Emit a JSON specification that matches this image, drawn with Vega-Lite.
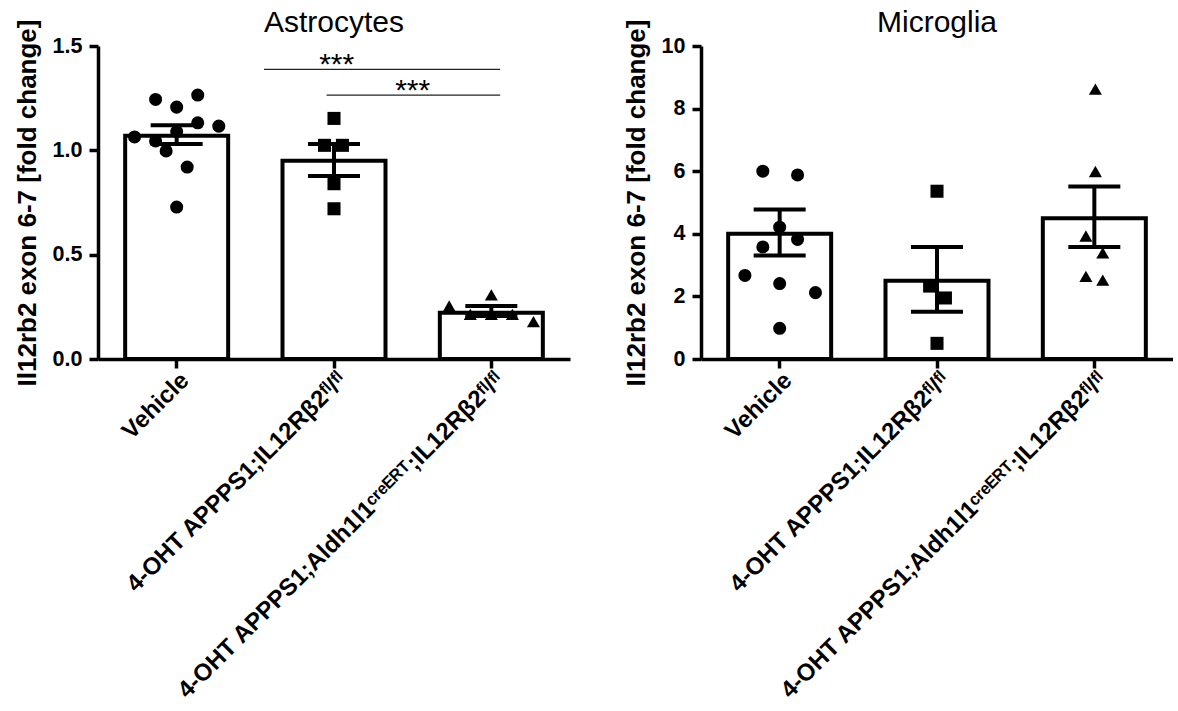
{
  "$schema": "https://vega.github.io/schema/vega-lite/v6.json",
  "background": "white",
  "padding": {"left": 14, "top": 8, "right": 0, "bottom": 0},
  "spacing": 53,
  "config": {
    "view": {"stroke": null},
    "font": "Liberation Sans",
    "axis": {
      "domainColor": "black", "domainWidth": 3.5, "tickColor": "black", "tickWidth": 3.5, "tickSize": 9,
      "labelColor": "black", "labelFont": "Liberation Sans", "labelFontSize": 21.5, "labelFontWeight": "bold",
      "titleColor": "black", "titleFont": "Liberation Sans", "titleFontSize": 26, "titleFontWeight": "bold",
      "grid": false, "labelLimit": 1000
    },
    "title": {"font": "Liberation Sans", "fontSize": 30, "fontWeight": "normal", "color": "black", "offset": -19}
  },
  "datasets": {
    "bars": [
      {"panel": "Astrocytes", "group": "Vehicle", "mean": 1.07, "lo": 1.03, "hi": 1.12},
      {"panel": "Astrocytes", "group": "4-OHT APPPS1;IL12Rβ2ᶠˡ/ᶠˡ", "mean": 0.95, "lo": 0.877, "hi": 1.03},
      {"panel": "Astrocytes", "group": "4-OHT APPPS1;Aldh1l1ᶜʳᵉᴱᴿᵀ;IL12Rβ2ᶠˡ/ᶠˡ", "mean": 0.222, "lo": 0.206, "hi": 0.254},
      {"panel": "Microglia", "group": "Vehicle", "mean": 4.0, "lo": 3.31, "hi": 4.78},
      {"panel": "Microglia", "group": "4-OHT APPPS1;IL12Rβ2ᶠˡ/ᶠˡ", "mean": 2.5, "lo": 1.51, "hi": 3.58},
      {"panel": "Microglia", "group": "4-OHT APPPS1;Aldh1l1ᶜʳᵉᴱᴿᵀ;IL12Rβ2ᶠˡ/ᶠˡ", "mean": 4.5, "lo": 3.58, "hi": 5.51}
    ],
    "points": [
      {"panel": "Astrocytes", "group": "Vehicle", "value": 1.244, "col": -2},
      {"panel": "Astrocytes", "group": "Vehicle", "value": 1.207, "col": 0},
      {"panel": "Astrocytes", "group": "Vehicle", "value": 1.265, "col": 2},
      {"panel": "Astrocytes", "group": "Vehicle", "value": 1.132, "col": 2},
      {"panel": "Astrocytes", "group": "Vehicle", "value": 1.116, "col": 4},
      {"panel": "Astrocytes", "group": "Vehicle", "value": 1.064, "col": -4},
      {"panel": "Astrocytes", "group": "Vehicle", "value": 1.045, "col": -2},
      {"panel": "Astrocytes", "group": "Vehicle", "value": 1.09, "col": 0},
      {"panel": "Astrocytes", "group": "Vehicle", "value": 0.997, "col": -1},
      {"panel": "Astrocytes", "group": "Vehicle", "value": 0.92, "col": 1},
      {"panel": "Astrocytes", "group": "Vehicle", "value": 0.728, "col": 0},
      {"panel": "Astrocytes", "group": "4-OHT APPPS1;IL12Rβ2ᶠˡ/ᶠˡ", "value": 1.153, "col": 0},
      {"panel": "Astrocytes", "group": "4-OHT APPPS1;IL12Rβ2ᶠˡ/ᶠˡ", "value": 1.024, "col": -0.9},
      {"panel": "Astrocytes", "group": "4-OHT APPPS1;IL12Rβ2ᶠˡ/ᶠˡ", "value": 1.024, "col": 0.8},
      {"panel": "Astrocytes", "group": "4-OHT APPPS1;IL12Rβ2ᶠˡ/ᶠˡ", "value": 0.84, "col": 0},
      {"panel": "Astrocytes", "group": "4-OHT APPPS1;IL12Rβ2ᶠˡ/ᶠˡ", "value": 0.72, "col": 0},
      {"panel": "Astrocytes", "group": "4-OHT APPPS1;Aldh1l1ᶜʳᵉᴱᴿᵀ;IL12Rβ2ᶠˡ/ᶠˡ", "value": 0.254, "col": -4},
      {"panel": "Astrocytes", "group": "4-OHT APPPS1;Aldh1l1ᶜʳᵉᴱᴿᵀ;IL12Rβ2ᶠˡ/ᶠˡ", "value": 0.307, "col": 0},
      {"panel": "Astrocytes", "group": "4-OHT APPPS1;Aldh1l1ᶜʳᵉᴱᴿᵀ;IL12Rβ2ᶠˡ/ᶠˡ", "value": 0.214, "col": -2},
      {"panel": "Astrocytes", "group": "4-OHT APPPS1;Aldh1l1ᶜʳᵉᴱᴿᵀ;IL12Rβ2ᶠˡ/ᶠˡ", "value": 0.214, "col": 0},
      {"panel": "Astrocytes", "group": "4-OHT APPPS1;Aldh1l1ᶜʳᵉᴱᴿᵀ;IL12Rβ2ᶠˡ/ᶠˡ", "value": 0.214, "col": 2},
      {"panel": "Astrocytes", "group": "4-OHT APPPS1;Aldh1l1ᶜʳᵉᴱᴿᵀ;IL12Rβ2ᶠˡ/ᶠˡ", "value": 0.179, "col": 4},
      {"panel": "Microglia", "group": "Vehicle", "value": 6.0, "col": -1.6},
      {"panel": "Microglia", "group": "Vehicle", "value": 5.88, "col": 1.7},
      {"panel": "Microglia", "group": "Vehicle", "value": 4.21, "col": 0},
      {"panel": "Microglia", "group": "Vehicle", "value": 3.58, "col": -1.6},
      {"panel": "Microglia", "group": "Vehicle", "value": 3.82, "col": 1.7},
      {"panel": "Microglia", "group": "Vehicle", "value": 2.67, "col": -3.3},
      {"panel": "Microglia", "group": "Vehicle", "value": 2.41, "col": 0},
      {"panel": "Microglia", "group": "Vehicle", "value": 2.12, "col": 3.4},
      {"panel": "Microglia", "group": "Vehicle", "value": 0.98, "col": 0},
      {"panel": "Microglia", "group": "4-OHT APPPS1;IL12Rβ2ᶠˡ/ᶠˡ", "value": 5.36, "col": 0},
      {"panel": "Microglia", "group": "4-OHT APPPS1;IL12Rβ2ᶠˡ/ᶠˡ", "value": 2.33, "col": -0.7},
      {"panel": "Microglia", "group": "4-OHT APPPS1;IL12Rβ2ᶠˡ/ᶠˡ", "value": 1.95, "col": 0.8},
      {"panel": "Microglia", "group": "4-OHT APPPS1;IL12Rβ2ᶠˡ/ᶠˡ", "value": 0.5, "col": 0},
      {"panel": "Microglia", "group": "4-OHT APPPS1;Aldh1l1ᶜʳᵉᴱᴿᵀ;IL12Rβ2ᶠˡ/ᶠˡ", "value": 8.62, "col": 0.1},
      {"panel": "Microglia", "group": "4-OHT APPPS1;Aldh1l1ᶜʳᵉᴱᴿᵀ;IL12Rβ2ᶠˡ/ᶠˡ", "value": 5.99, "col": 0.1},
      {"panel": "Microglia", "group": "4-OHT APPPS1;Aldh1l1ᶜʳᵉᴱᴿᵀ;IL12Rβ2ᶠˡ/ᶠˡ", "value": 3.93, "col": -0.8},
      {"panel": "Microglia", "group": "4-OHT APPPS1;Aldh1l1ᶜʳᵉᴱᴿᵀ;IL12Rβ2ᶠˡ/ᶠˡ", "value": 3.39, "col": 0.8},
      {"panel": "Microglia", "group": "4-OHT APPPS1;Aldh1l1ᶜʳᵉᴱᴿᵀ;IL12Rβ2ᶠˡ/ᶠˡ", "value": 2.64, "col": -0.8},
      {"panel": "Microglia", "group": "4-OHT APPPS1;Aldh1l1ᶜʳᵉᴱᴿᵀ;IL12Rβ2ᶠˡ/ᶠˡ", "value": 2.52, "col": 0.8}
    ],
    "sig": [
      {"x1": 1.055, "x2": 2.556, "y": 1.388, "tx": 1.517, "label": "***"},
      {"x1": 1.453, "x2": 2.556, "y": 1.265, "tx": 2.0, "label": "***"}
    ]
  },
  "hconcat": [
    {
      "title": "Astrocytes",
      "width": 472,
      "height": 313,
      "layer": [
        {
          "layer": [
            {
              "data": {"name": "bars"},
              "transform": [{"filter": "datum.panel === 'Astrocytes'"}],
              "mark": {"type": "bar", "fill": "white", "stroke": "black", "strokeWidth": 4, "width": 103},
              "encoding": {
                "x": {"field": "group", "type": "nominal",
                      "scale": {"domain": ["Vehicle", "4-OHT APPPS1;IL12Rβ2ᶠˡ/ᶠˡ", "4-OHT APPPS1;Aldh1l1ᶜʳᵉᴱᴿᵀ;IL12Rβ2ᶠˡ/ᶠˡ"], "paddingInner": 0.344, "paddingOuter": 0.172},
                      "axis": {"title": null, "labelAngle": -45, "labelPadding": 0, "labelFontSize": 24}},
                "y": {"field": "mean", "type": "quantitative", "scale": {"domain": [0, 1.5], "nice": false},
                      "axis": {"title": "Il12rb2 exon 6-7 [fold change]", "values": [0, 0.5, 1, 1.5], "format": ".1f", "labelPadding": 7, "titlePadding": 12}}
              }
            },
            {
              "data": {"name": "points"},
              "transform": [{"filter": "datum.panel === 'Astrocytes'"}],
              "mark": {"type": "point", "filled": true, "color": "black", "opacity": 1, "size": 170},
              "encoding": {
                "x": {"field": "group", "type": "nominal"},
                "xOffset": {"field": "col", "type": "quantitative", "scale": {"domain": [-4.9, 4.9]}},
                "y": {"field": "value", "type": "quantitative"},
                "shape": {"field": "group", "type": "nominal", "legend": null,
                          "scale": {"domain": ["Vehicle", "4-OHT APPPS1;IL12Rβ2ᶠˡ/ᶠˡ", "4-OHT APPPS1;Aldh1l1ᶜʳᵉᴱᴿᵀ;IL12Rβ2ᶠˡ/ᶠˡ"], "range": ["circle", "square", "triangle-up"]}}
              }
            },
            {
              "data": {"name": "bars"},
              "transform": [{"filter": "datum.panel === 'Astrocytes'"}],
              "mark": {"type": "rule", "strokeWidth": 4, "color": "black"},
              "encoding": {
                "x": {"field": "group", "type": "nominal"},
                "y": {"field": "lo", "type": "quantitative"},
                "y2": {"field": "hi"}
              }
            },
            {
              "data": {"name": "bars"},
              "transform": [{"filter": "datum.panel === 'Astrocytes'"}],
              "mark": {"type": "tick", "size": 52, "thickness": 4, "color": "black", "opacity": 1},
              "encoding": {
                "x": {"field": "group", "type": "nominal"},
                "y": {"field": "hi", "type": "quantitative"}
              }
            },
            {
              "data": {"name": "bars"},
              "transform": [{"filter": "datum.panel === 'Astrocytes'"}],
              "mark": {"type": "tick", "size": 52, "thickness": 4, "color": "black", "opacity": 1},
              "encoding": {
                "x": {"field": "group", "type": "nominal"},
                "y": {"field": "lo", "type": "quantitative"}
              }
            }
          ]
        },
        {
          "data": {"name": "sig"},
          "layer": [
            {
              "mark": {"type": "rule", "strokeWidth": 1.3, "color": "#222222"},
              "encoding": {
                "x": {"field": "x1", "type": "quantitative", "scale": {"domain": [0, 3], "nice": false, "zero": false}, "axis": null},
                "x2": {"field": "x2"},
                "y": {"field": "y", "type": "quantitative", "scale": {"domain": [0, 1.5], "nice": false}}
              }
            },
            {
              "mark": {"type": "text", "fontSize": 30, "fontWeight": "normal", "color": "black", "baseline": "alphabetic", "dy": 5},
              "encoding": {
                "x": {"field": "tx", "type": "quantitative", "scale": {"domain": [0, 3], "nice": false, "zero": false}, "axis": null},
                "y": {"field": "y", "type": "quantitative", "scale": {"domain": [0, 1.5], "nice": false}},
                "text": {"field": "label"}
              }
            }
          ]
        }
      ],
      "resolve": {"scale": {"x": "independent"}, "axis": {"x": "independent"}}
    },
    {
      "title": "Microglia",
      "width": 472,
      "height": 313,
      "layer": [
        {
          "data": {"name": "bars"},
          "transform": [{"filter": "datum.panel === 'Microglia'"}],
          "mark": {"type": "bar", "fill": "white", "stroke": "black", "strokeWidth": 4, "width": 103},
          "encoding": {
            "x": {"field": "group", "type": "nominal",
                  "scale": {"domain": ["Vehicle", "4-OHT APPPS1;IL12Rβ2ᶠˡ/ᶠˡ", "4-OHT APPPS1;Aldh1l1ᶜʳᵉᴱᴿᵀ;IL12Rβ2ᶠˡ/ᶠˡ"], "paddingInner": 0.344, "paddingOuter": 0.172},
                  "axis": {"title": null, "labelAngle": -45, "labelPadding": 0, "labelFontSize": 24}},
            "y": {"field": "mean", "type": "quantitative", "scale": {"domain": [0, 10], "nice": false},
                  "axis": {"title": "Il12rb2 exon 6-7 [fold change]", "values": [0, 2, 4, 6, 8, 10], "format": "d", "labelPadding": 7, "titlePadding": 12}}
          }
        },
        {
          "data": {"name": "points"},
          "transform": [{"filter": "datum.panel === 'Microglia'"}],
          "mark": {"type": "point", "filled": true, "color": "black", "opacity": 1, "size": 170},
          "encoding": {
            "x": {"field": "group", "type": "nominal"},
            "xOffset": {"field": "col", "type": "quantitative", "scale": {"domain": [-4.9, 4.9]}},
            "y": {"field": "value", "type": "quantitative"},
            "shape": {"field": "group", "type": "nominal", "legend": null,
                      "scale": {"domain": ["Vehicle", "4-OHT APPPS1;IL12Rβ2ᶠˡ/ᶠˡ", "4-OHT APPPS1;Aldh1l1ᶜʳᵉᴱᴿᵀ;IL12Rβ2ᶠˡ/ᶠˡ"], "range": ["circle", "square", "triangle-up"]}}
          }
        },
        {
          "data": {"name": "bars"},
          "transform": [{"filter": "datum.panel === 'Microglia'"}],
          "mark": {"type": "rule", "strokeWidth": 4, "color": "black"},
          "encoding": {
            "x": {"field": "group", "type": "nominal"},
            "y": {"field": "lo", "type": "quantitative"},
            "y2": {"field": "hi"}
          }
        },
        {
          "data": {"name": "bars"},
          "transform": [{"filter": "datum.panel === 'Microglia'"}],
          "mark": {"type": "tick", "size": 52, "thickness": 4, "color": "black", "opacity": 1},
          "encoding": {
            "x": {"field": "group", "type": "nominal"},
            "y": {"field": "hi", "type": "quantitative"}
          }
        },
        {
          "data": {"name": "bars"},
          "transform": [{"filter": "datum.panel === 'Microglia'"}],
          "mark": {"type": "tick", "size": 52, "thickness": 4, "color": "black", "opacity": 1},
          "encoding": {
            "x": {"field": "group", "type": "nominal"},
            "y": {"field": "lo", "type": "quantitative"}
          }
        }
      ]
    }
  ]
}
